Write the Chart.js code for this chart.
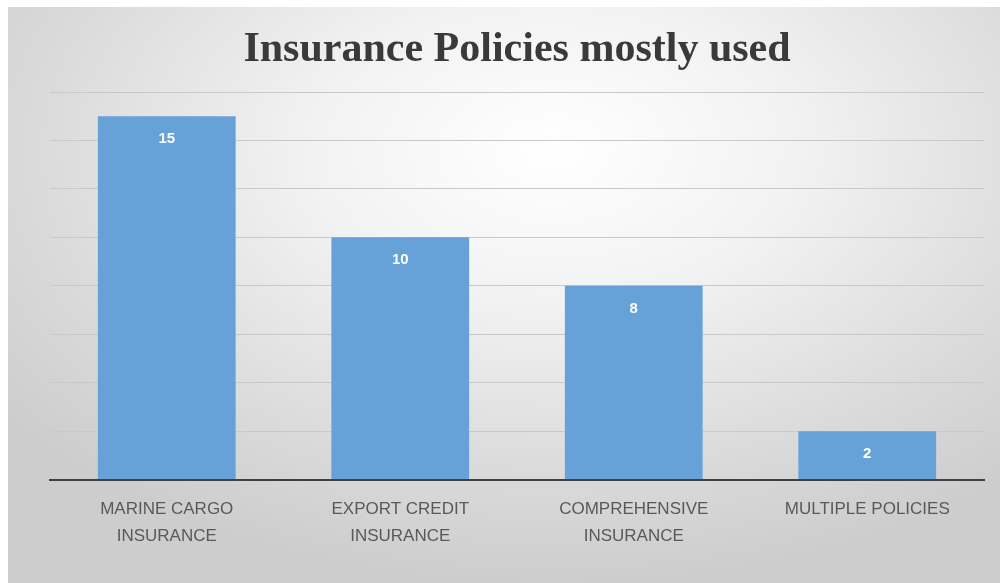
<!DOCTYPE html>
<html>
<head>
<meta charset="utf-8">
<script src="https://cdn.jsdelivr.net/npm/chart.js@4"></script>
<style>
  html, body { margin: 0; padding: 0; background: #ffffff; }
  #wrap {
    position: absolute; left: 8px; top: 7px; width: 992px; height: 576px;
    background: radial-gradient(ellipse 70% 75% at 55% 25%, #ffffff 0%, #f2f2f2 35%, #dadada 75%, #cdcdcd 100%);
  }
  canvas { display: block; }
</style>
</head>
<body>
<div id="wrap"><canvas id="c" width="992" height="576"></canvas></div>
<script>
const chartTitle = 'Insurance Policies mostly used';
const categories = [
  ['MARINE CARGO', 'INSURANCE'],
  ['EXPORT CREDIT', 'INSURANCE'],
  ['COMPREHENSIVE', 'INSURANCE'],
  ['MULTIPLE POLICIES']
];
const counts = [15, 10, 8, 2];
const yMin = 0;
const yMax = 16;
const yStep = 2;

const valueLabels = {
  id: 'valueLabels',
  afterDatasetsDraw(chart) {
    const ctx = chart.ctx;
    const meta = chart.getDatasetMeta(0);
    ctx.save();
    ctx.fillStyle = '#ffffff';
    ctx.font = 'bold 15px "Liberation Sans", Arial, sans-serif';
    ctx.textAlign = 'center';
    ctx.textBaseline = 'middle';
    meta.data.forEach((bar, i) => {
      ctx.fillText(String(counts[i]), bar.x, bar.y + 23);
    });
    ctx.restore();
  }
};

new Chart(document.getElementById('c'), {
  type: 'bar',
  data: {
    labels: categories,
    datasets: [{
      data: counts,
      backgroundColor: '#66a1d7',
      borderWidth: 0,
      barPercentage: 0.59,
      categoryPercentage: 1.0
    }]
  },
  options: {
    responsive: false,
    animation: false,
    devicePixelRatio: 1,
    layout: { padding: { left: 42, right: 16, top: 0, bottom: 17 } },
    plugins: {
      legend: { display: false },
      tooltip: { enabled: false },
      title: {
        display: true,
        text: chartTitle,
        color: '#3a3a3a',
        font: { family: '"Liberation Serif", "Times New Roman", serif', size: 42, weight: 'bold', lineHeight: 1.2 },
        padding: { top: 18, bottom: 16.6 }
      }
    },
    scales: {
      x: {
        grid: { display: false, drawTicks: false },
        border: { display: true, color: '#404040', width: 2 },
        ticks: {
          color: '#595959',
          padding: 16,
          maxRotation: 0,
          autoSkip: false,
          font: { family: '"Liberation Sans", Arial, sans-serif', size: 17, lineHeight: 1.6 }
        }
      },
      y: {
        min: yMin,
        max: yMax,
        ticks: { display: false, stepSize: yStep },
        grid: { color: '#c9c9c9', lineWidth: 1, drawTicks: false },
        border: { display: false }
      }
    }
  },
  plugins: [valueLabels]
});
</script>
</body>
</html>
